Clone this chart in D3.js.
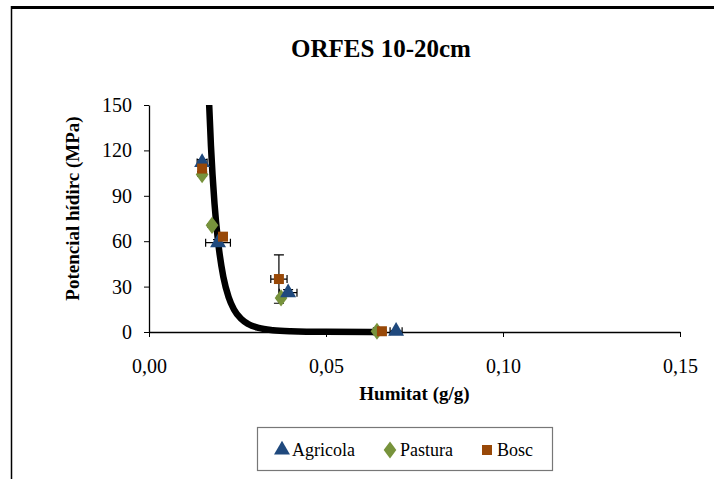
<!DOCTYPE html>
<html>
<head>
<meta charset="utf-8">
<script src="https://cdn.jsdelivr.net/npm/d3@7"></script>
<style>
  html, body { margin: 0; padding: 0; background: #fff; }
  svg { display: block; }
  text { font-family: "Liberation Serif", "Times New Roman", serif; fill: #000; }
</style>
</head>
<body>
<svg id="chart" width="714" height="479"></svg>
<script>
// Soil water potential vs. moisture, ORFES 10-20 cm
const seriesNames = ["Agricola", "Pastura", "Bosc"];
const seriesColors = ["#1F497D", "#77933C", "#984807"];
const seriesSymbols = [d3.symbolTriangle, d3.symbolDiamond, d3.symbolSquare];

// humitat (g/g)
const agricolaX = [0.0150, 0.0195, 0.0393, 0.0698];
const pasturaX  = [0.0150, 0.0178, 0.0373, 0.0644];
const boscX     = [0.0150, 0.0209, 0.0367, 0.0658];
// potencial hídric (MPa)
const agricolaY = [112, 59, 26, 0.5];
const pasturaY  = [104, 70.5, 22.5, 0.5];
const boscY     = [108, 63, 35, 0.5];
// error bars
const agricolaXErr = [0.0014, 0.0035, 0.0025, 0.0017];
const pasturaXErr  = [0.0005, 0.0005, 0.0005, 0.0010];
const boscXErr     = [0.0005, 0.0005, 0.0023, 0.0008];
const agricolaYErr = [2, 2, 2, 0.5];
const pasturaYErr  = [1, 1, 1, 0.5];
const boscYErr     = [2, 2, 16, 0.5];

// fitted trend curve, read as (humitat, potencial) pairs
const trendX = [0.0166, 0.0170, 0.0175, 0.0185, 0.0195, 0.0210, 0.0225, 0.0240, 0.0260, 0.0280, 0.0310, 0.0350, 0.0400, 0.0500, 0.0650];
const trendY = [165, 150, 123, 85, 60, 36.4, 23, 14.9, 8.7, 5.3, 2.7, 1.2, 0.5, 0.1, 0];

const xTicks = [0, 0.05, 0.10, 0.15];
const yTicks = [0, 30, 60, 90, 120, 150];

const svg = d3.select("#chart");

// outer frame (top and left edges)
svg.append("line").attr("x1", 11).attr("x2", 714).attr("y1", 7.5).attr("y2", 7.5)
  .attr("stroke", "#000").attr("stroke-width", 3);
svg.append("line").attr("x1", 11.5).attr("x2", 11.5).attr("y1", 6).attr("y2", 479)
  .attr("stroke", "#000").attr("stroke-width", 1.5);

const plotL = 149, plotR = 680, plotT = 105, plotB = 332;
const x = d3.scaleLinear().domain([0, 0.15]).range([plotL, plotR]);
const y = d3.scaleLinear().domain([0, 150]).range([plotB, plotT]);
const fmt = v => d3.format(".2f")(v).replace(".", ",");

// title
svg.append("text").attr("x", 381).attr("y", 57).attr("text-anchor", "middle")
  .attr("font-size", 25).attr("font-weight", "bold").text("ORFES 10-20cm");

// axes
const xAxis = svg.append("g").attr("transform", `translate(0,${plotB})`)
  .call(d3.axisBottom(x).tickValues(xTicks).tickFormat(fmt).tickSizeInner(5).tickSizeOuter(0).tickPadding(22));
const yAxis = svg.append("g").attr("transform", `translate(${plotL},0)`)
  .call(d3.axisLeft(y).tickValues(yTicks).tickSizeInner(5).tickSizeOuter(0).tickPadding(12));
[xAxis, yAxis].forEach(g => {
  g.select(".domain").attr("stroke", "#000").attr("stroke-width", 1.3);
  g.selectAll(".tick line").attr("stroke", "#000").attr("stroke-width", 1);
  g.selectAll(".tick text").attr("font-family", "Liberation Serif, serif")
    .attr("font-size", 20).attr("fill", "#000");
});

// axis titles
svg.append("text").attr("x", (plotL + plotR) / 2).attr("y", 400).attr("text-anchor", "middle")
  .attr("font-size", 19).attr("font-weight", "bold").text("Humitat (g/g)");
svg.append("text").attr("transform", `translate(79,${(plotT + plotB) / 2 - 10}) rotate(-90)`)
  .attr("text-anchor", "middle").attr("font-size", 19).attr("font-weight", "bold")
  .text("Potencial hídirc (MPa)");

// trend curve, clipped to the plot area
svg.append("clipPath").attr("id", "plotClip").append("rect")
  .attr("x", plotL).attr("y", plotT).attr("width", plotR - plotL).attr("height", plotB - plotT + 4);
const trend = trendX.map((v, i) => [v, trendY[i]]);
svg.append("path").datum(trend)
  .attr("clip-path", "url(#plotClip)")
  .attr("d", d3.line().x(d => x(d[0])).y(d => y(d[1])).curve(d3.curveMonotoneX))
  .attr("fill", "none").attr("stroke", "#000").attr("stroke-width", 6.5).attr("stroke-linecap", "butt");

// series
const series = [
  { xs: agricolaX, ys: agricolaY, xe: agricolaXErr, ye: agricolaYErr },
  { xs: pasturaX,  ys: pasturaY,  xe: pasturaXErr,  ye: pasturaYErr },
  { xs: boscX,     ys: boscY,     xe: boscXErr,     ye: boscYErr }
];
const sizes = [110, 105, 100];
const order = [1, 0, 2];

// error bars first
order.forEach(si => {
  const s = series[si];
  const g = svg.append("g").attr("stroke", "#000").attr("stroke-width", 1.2).attr("fill", "none");
  s.xs.forEach((xv, i) => {
    const cx = x(xv), cy = y(s.ys[i]);
    const x0 = x(xv - s.xe[i]), x1 = x(xv + s.xe[i]);
    const y0 = y(s.ys[i] - s.ye[i]), y1 = y(s.ys[i] + s.ye[i]);
    g.append("path").attr("d", `M${x0},${cy}H${x1}M${x0},${cy - 4}V${cy + 4}M${x1},${cy - 4}V${cy + 4}`);
    g.append("path").attr("d", `M${cx},${y0}V${y1}M${cx - 5},${y0}H${cx + 5}M${cx - 5},${y1}H${cx + 5}`);
  });
});

order.forEach(si => {
  const s = series[si];
  const sym = d3.symbol().type(seriesSymbols[si]).size(sizes[si]);
  svg.append("g").selectAll("path").data(s.xs.map((v, i) => [v, s.ys[i]])).join("path")
    .attr("transform", d => `translate(${x(d[0])},${y(d[1])})${si === 1 ? " scale(1.15,0.9)" : ""}`)
    .attr("d", sym).attr("fill", seriesColors[si]);
});

// legend
const lg = svg.append("g");
lg.append("rect").attr("x", 257.5).attr("y", 427.5).attr("width", 295).attr("height", 43)
  .attr("fill", "#fff").attr("stroke", "#777").attr("stroke-width", 1.2);
const legendX = [282, 390, 487];
seriesNames.forEach((name, i) => {
  lg.append("path").attr("d", d3.symbol().type(seriesSymbols[i]).size(sizes[i])())
    .attr("transform", `translate(${legendX[i]},${450})${i === 1 ? " scale(1.15,0.9)" : ""}`)
    .attr("fill", seriesColors[i]);
  lg.append("text").attr("x", legendX[i] + 10).attr("y", 456).attr("font-size", 18).text(name);
});
</script>
</body>
</html>
